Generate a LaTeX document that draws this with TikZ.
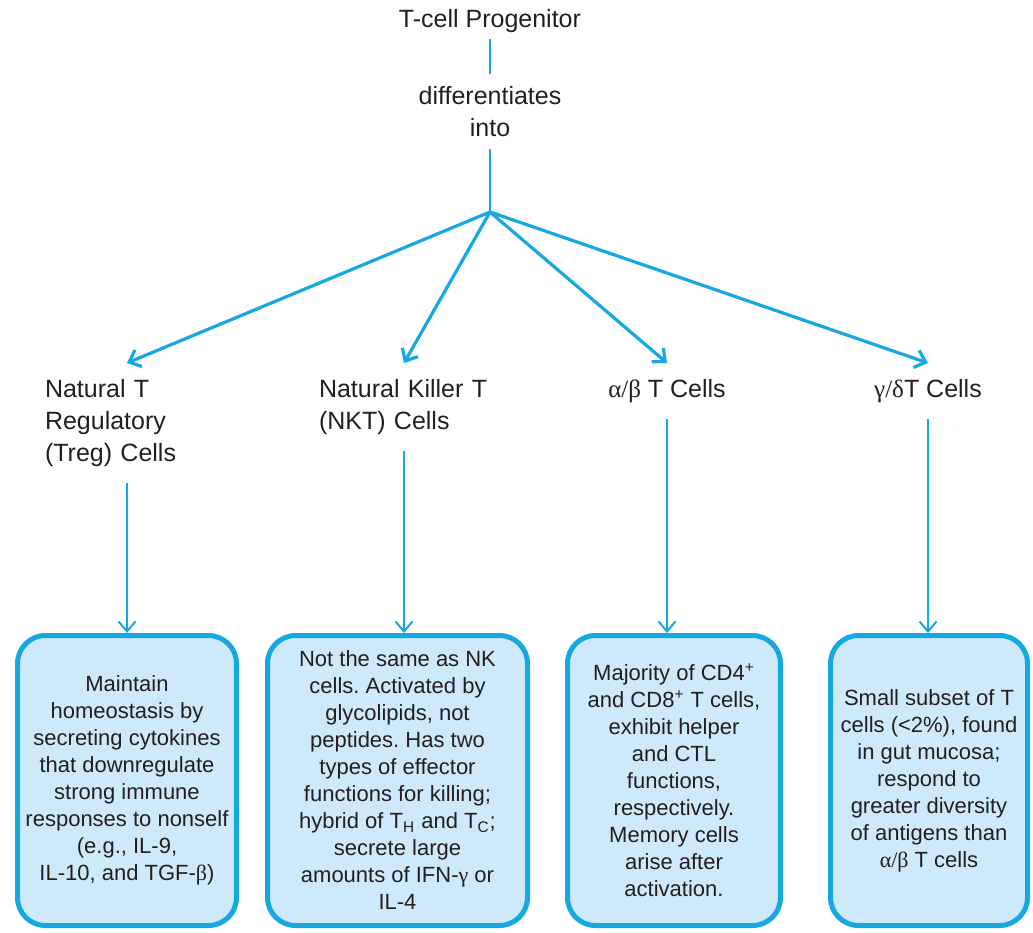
\documentclass[tikz,border=0pt]{standalone}
\usepackage{fontspec}
\setmainfont{Liberation Sans}
\newfontfamily\grk{Liberation Serif}
\usetikzlibrary{arrows.meta}
\definecolor{tcyan}{RGB}{22,168,224}
\definecolor{tfill}{RGB}{206,233,250}
\definecolor{tink}{RGB}{35,31,32}
\frenchspacing
\begin{document}
\begin{tikzpicture}[x=0.5pt,y=-0.5pt,every node/.style={text=tink},
	lbl/.style={font=\fontsize{12.5}{16}\selectfont,inner xsep=0pt,inner ysep=8pt,anchor=north},
	infobox/.style={draw=tcyan,line width=2.5pt,fill=tfill,rounded corners=14pt,minimum width=#1,minimum height=145pt,align=center,font=\fontsize{11}{13.5}\selectfont},
	stem/.style={tcyan,line width=1pt},
	fan/.style={tcyan,line width=1.6pt,-{Straight Barb[length=5pt,width=9pt]}},
	down/.style={tcyan,line width=1pt,-{Straight Barb[length=5pt,width=8.5pt]}}]
	\useasboundingbox (0,0) rectangle (1033,932);
	% top of the tree
	\node[font=\fontsize{12.5}{16}\selectfont,inner ysep=2.5pt](prog) at (490,21.5){T-cell Progenitor};
	\node[font=\fontsize{12.5}{16}\selectfont,inner ysep=6pt,align=center](diff) at (490,111.5){differentiates\\into};
	\coordinate (hub) at (490,212);
	\draw[stem](prog)--(diff);
	\draw[stem](diff.south)--(hub);
	% the four kinds of T cells
	\node[lbl,text width=82pt,align=left](treg) at (127,363){Natural T\\Regulatory\\(Treg) Cells};
	\node[lbl,text width=85pt,align=left](nkt) at (404,363){Natural Killer T\\(NKT) Cells};
	\node[lbl](ab) at (667,363){{\grk α/β} T Cells};
	\node[lbl](gd) at (928,363){{\grk γ/δ}T Cells};
	\draw[fan](hub)--(treg.north);
	\draw[fan](hub)--(nkt.north);
	\draw[fan](hub)--(ab.north);
	\draw[fan](hub)--(gd.north);
	% boxes
	\node[infobox=109.5pt](b1) at (127,780.5){Maintain\\homeostasis by\\secreting cytokines\\that downregulate\\strong immune\\responses to nonself\\(e.g., IL-9,\\IL-10, and TGF-{\grk β})};
	\node[infobox=130pt](b2) at (397.5,780.5){Not the same as NK\\cells. Activated by\\glycolipids, not\\peptides. Has two\\types of effector\\functions for killing;\\hybrid of T\textsubscript{H} and T\textsubscript{C};\\secrete large\\amounts of IFN-{\grk γ} or\\IL-4};
	\node[infobox=106.5pt](b3) at (674,780.5){Majority of CD4\textsuperscript{+}\\and CD8\textsuperscript{+} T cells,\\exhibit helper\\and CTL\\functions,\\respectively.\\Memory cells\\arise after\\activation.};
	\node[infobox=98.5pt](b4) at (929,780.5){Small subset of T\\cells (<2\%), found\\in gut mucosa;\\respond to\\greater diversity\\of antigens than\\{\grk α/β} T cells};
	\draw[down](treg.south)--(treg.south|-b1.north);
	\draw[down](nkt.south)--(nkt.south|-b2.north);
	\draw[down](ab.south)--(ab.south|-b3.north);
	\draw[down](gd.south)--(gd.south|-b4.north);
\end{tikzpicture}
\end{document}
